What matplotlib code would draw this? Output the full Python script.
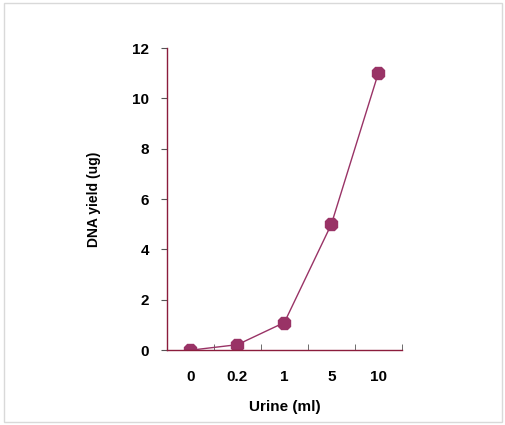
import matplotlib
matplotlib.use("Agg")
import matplotlib.pyplot as plt
from matplotlib.patches import Rectangle

categories = ["0", "0.2", "1", "5", "10"]
dna_yield = [0.0, 0.22, 1.1, 5.0, 11.0]
y_ticks = [0, 2, 4, 6, 8, 10, 12]

plt.rcParams['font.family'] = ['Liberation Sans', 'DejaVu Sans']

fig = plt.figure(figsize=(5.06, 4.25), dpi=100)
fig.patches.append(Rectangle((0.008, 0.008), 0.984, 0.984, transform=fig.transFigure,
                             fill=False, edgecolor='#d9d9d9', linewidth=1))
ax = fig.add_axes([0.330, 0.176, 0.464, 0.711])

x = list(range(len(categories)))
color = '#993366'
ax.plot(x, dna_yield, color=color, linewidth=1, marker='8', markersize=10,
        markerfacecolor=color, markeredgecolor=color)

ax.set_xlim(-0.5, len(categories) - 0.5)
ax.set_ylim(0, 12)
ax.set_yticks(y_ticks)
ax.set_xticks(x)
ax.set_xticklabels(categories, fontsize=11, fontweight='bold')
ax.set_xticks([i - 0.5 for i in range(len(categories) + 1)], minor=True)
ax.tick_params(axis='x', which='major', length=0, pad=14)
ax.tick_params(axis='x', which='minor', length=4, direction='in', color='#555555')
ax.tick_params(axis='y', length=4, direction='out', color='#555555', labelsize=11, pad=9)
for lbl in ax.get_yticklabels():
    lbl.set_fontweight('bold')

for side in ['top', 'right']:
    ax.spines[side].set_visible(False)
for side in ['left', 'bottom']:
    ax.spines[side].set_color('#8b1c3c')
    ax.spines[side].set_linewidth(1)

ax.set_xlabel("Urine (ml)", fontsize=11, fontweight='bold', labelpad=12)
ax.set_ylabel("DNA yield (ug)", fontsize=10, fontweight='bold', labelpad=22)

fig.savefig("out.png", dpi=100)
